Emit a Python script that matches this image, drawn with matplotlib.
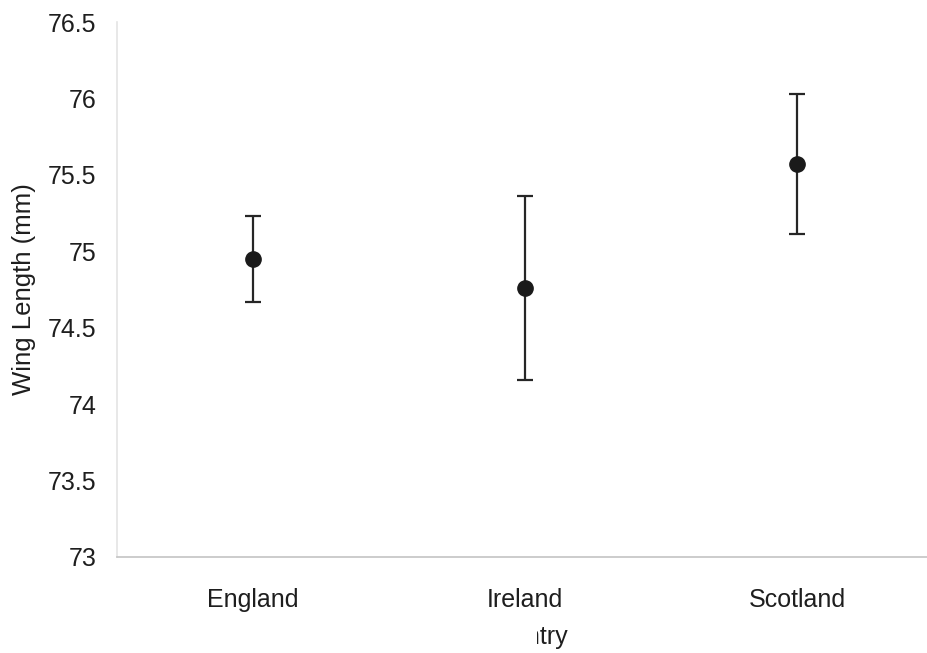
import matplotlib
matplotlib.use("Agg")
import matplotlib.pyplot as plt
from matplotlib.patches import Rectangle

# Mean wing length per country with error bar half-widths
countries = ["England", "Ireland", "Scotland"]
mean_wing = [74.95, 74.76, 75.57]
err_wing = [0.28, 0.60, 0.46]
y_ticks = [73, 73.5, 74, 74.5, 75, 75.5, 76, 76.5]
y_tick_labels = ["73", "73.5", "74", "74.5", "75", "75.5", "76", "76.5"]

plt.rcParams["font.family"] = ["Liberation Sans", "DejaVu Sans"]
text_col = "#1e1e1e"

W, H = 928, 653
fig = plt.figure(figsize=(W / 100, H / 100), dpi=100)
ax = fig.add_axes([117 / W, 1 - 557 / H, 816 / W, 535 / H])

x = list(range(len(countries)))
ax.errorbar(x, mean_wing, yerr=err_wing, fmt="o", color="#1a1a1a",
            ecolor="#262626", elinewidth=1.6, capsize=5.5, capthick=1.6,
            markersize=11, zorder=3)

ax.set_xlim(-0.5, 2.5)
ax.set_ylim(73, 76.5)
ax.set_xticks(x)
ax.set_xticklabels(countries)
ax.set_yticks(y_ticks)
ax.set_yticklabels(y_tick_labels)

ax.tick_params(axis="x", length=0, pad=22, labelsize=18, labelcolor=text_col)
ax.tick_params(axis="y", length=0, pad=15, labelsize=18, labelcolor=text_col)

for side in ("top", "right"):
    ax.spines[side].set_visible(False)
ax.spines["left"].set_color("#e4e4e4")
ax.spines["left"].set_linewidth(1.2)
ax.spines["bottom"].set_color("#c4c4c4")
ax.spines["bottom"].set_linewidth(1.2)

ax.set_ylabel("Wing Length (mm)", fontsize=18.5, color=text_col, va="center")
ax.yaxis.set_label_coords(-0.114, 0.5)
ax.set_xlabel("Country", fontsize=18, color=text_col, va="center")
ax.xaxis.set_label_coords(0.5, -0.15)

# The left part of the x-axis title is covered by a white patch
fig.canvas.draw()
bb = ax.xaxis.label.get_window_extent()
cover_right = bb.x0 + 0.636 * bb.width
fig.add_artist(Rectangle((bb.x0 - 6, bb.y0 - 6), cover_right - bb.x0 + 6,
                         bb.height + 12, transform=None,
                         facecolor="white", edgecolor="none", zorder=10))

fig.savefig("out.png", dpi=100, facecolor="white")
